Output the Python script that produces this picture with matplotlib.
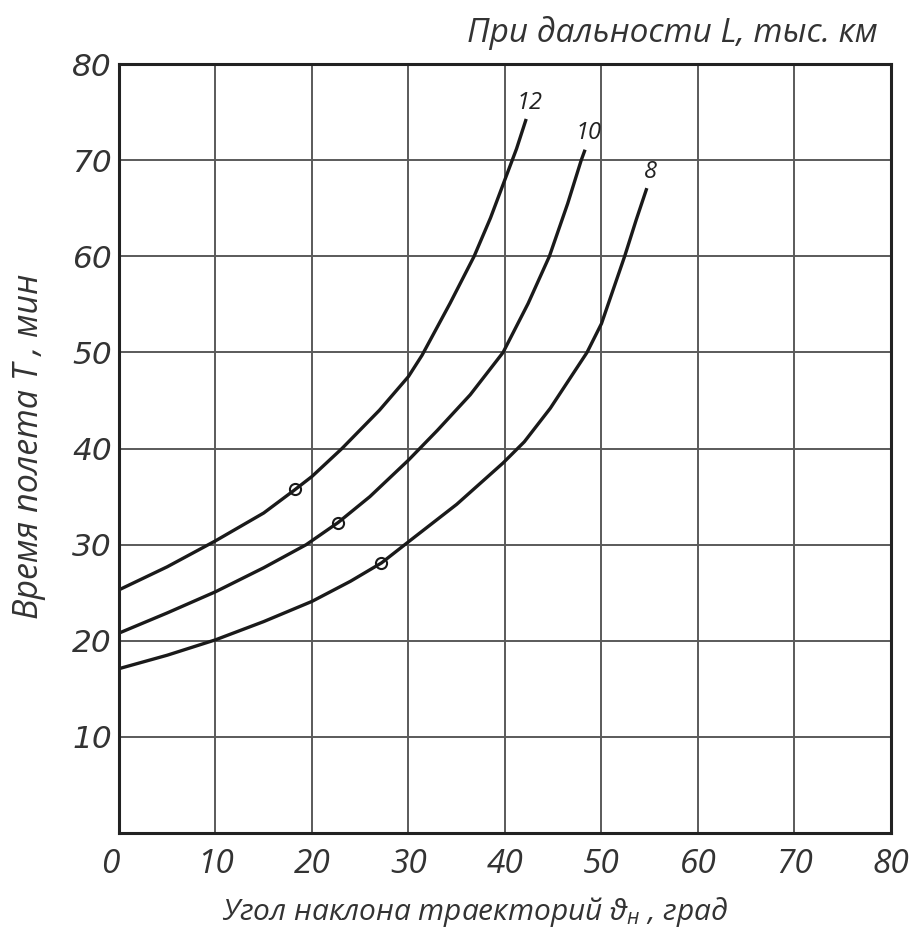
import matplotlib
matplotlib.use("Agg")
import matplotlib.pyplot as plt

# данные: угол (град) -> время полета (мин)
angle_12 = [0, 5, 10, 15, 18.2, 20, 23.1, 27, 30, 31.4, 34.3, 36.8, 38.5, 40, 41.2, 42.2]
time_12 = [25.3, 27.7, 30.4, 33.3, 35.7, 37.1, 40, 44.0, 47.5, 49.7, 55.1, 60, 64, 68, 71.2, 74.3]

angle_10 = [0, 5, 10, 15, 19.4, 22.7, 26, 30, 33, 36.4, 39.8, 42.4, 44.6, 46.5, 47.9, 48.3]
time_10 = [20.8, 22.9, 25.1, 27.6, 30, 32.3, 35, 38.8, 41.9, 45.6, 50, 55.1, 60, 65.5, 70, 71.1]

angle_8 = [0, 5, 10, 15, 20, 24, 27.2, 30, 35, 39.8, 42, 44.7, 48.5, 50, 52.4, 53.6, 54.7]
time_8 = [17.1, 18.5, 20.1, 22.0, 24.1, 26.2, 28.1, 30.3, 34.2, 38.5, 40.7, 44.2, 50, 53.0, 60, 63.8, 67.1]

# отмеченные точки
mark_x = [18.2, 22.7, 27.2]
mark_y = [35.8, 32.3, 28.1]

curve_labels = ["12", "10", "8"]

xticks = [0, 10, 20, 30, 40, 50, 60, 70, 80]
yticks = [10, 20, 30, 40, 50, 60, 70, 80]

plt.rcParams['mathtext.fontset'] = 'custom'
plt.rcParams['mathtext.it'] = 'Open Sans:italic'
plt.rcParams['mathtext.rm'] = 'Open Sans:italic'

fig = plt.figure(figsize=(9.11, 9.30), dpi=100)
ax = fig.add_axes([0.1306, 0.1043, 0.8474, 0.8267])

ax.set_xlim(0, 80)
ax.set_ylim(0, 80)
ax.set_xticks(xticks)
ax.set_yticks(yticks)
ax.grid(True, color='#5a5a5a', linewidth=1.4)
ax.set_axisbelow(True)
for s in ax.spines.values():
    s.set_linewidth(2.2)
    s.set_color('#222222')
ax.tick_params(length=0)
ax.tick_params(axis='x', pad=11)
ax.tick_params(axis='y', pad=5)

lw = 2.4
for xs, ys in [(angle_12, time_12), (angle_10, time_10), (angle_8, time_8)]:
    ax.plot(xs, ys, color='#1a1a1a', lw=lw, solid_joinstyle='round', solid_capstyle='butt')
ax.plot(mark_x, mark_y, 'o', ms=8, mfc='none', mec='#1a1a1a', mew=1.5)

# подписи кривых
ends = [(angle_12[-1], time_12[-1]), (angle_10[-1], time_10[-1]), (angle_8[-1], time_8[-1])]
for lab, (ex, ey) in zip(curve_labels, ends):
    ax.text(ex + 0.4, ey + 1.7, lab, fontsize=17, family='Open Sans', style='italic',
            color='#222222', ha='center', va='center')

for t in ax.get_xticklabels():
    t.set_family('Open Sans')
    t.set_style('italic')
    t.set_fontsize(24)
    t.set_color('#333333')
ax.get_xticklabels()[0].set_ha('right')
for t in ax.get_yticklabels():
    t.set_family('DejaVu Sans')
    t.set_style('italic')
    t.set_fontsize(22.5)
    t.set_color('#333333')

ax.set_xlabel("Угол наклона траекторий $\\vartheta_{н}$ , град", fontsize=21.5,
              family='Open Sans', style='italic', color='#333333', va='baseline')
ax.xaxis.set_label_coords(0.461, -0.113)
ax.set_ylabel("Время полета T , мин", fontsize=24.5, family='Open Sans',
              style='italic', color='#333333', va='center')
ax.yaxis.set_label_coords(-0.1166, 0.503)
fig.text(0.964, 0.965, "При дальности L, тыс. км", fontsize=24, family='Open Sans',
         style='italic', color='#333333', ha='right', va='center')

fig.savefig("out.png", dpi=100)
